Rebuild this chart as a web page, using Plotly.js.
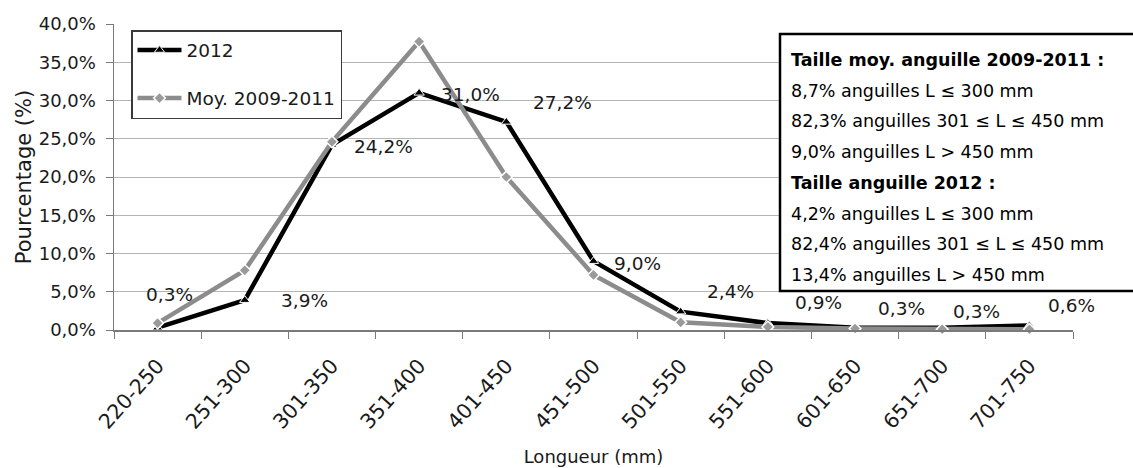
<!DOCTYPE html>
<html>
<head>
<meta charset="utf-8">
<script src="https://cdn.plot.ly/plotly-3.0.1.min.js"></script>
<style>
  html, body { margin: 0; padding: 0; background: #ffffff; }
  #chart { width: 1133px; height: 468px; }
</style>
</head>
<body>
<div id="chart"></div>
<script>
// ---- Data ----
const categories = ['220-250', '251-300', '301-350', '351-400', '401-450', '451-500',
                    '501-550', '551-600', '601-650', '651-700', '701-750'];
const series2012Name = '2012';
const series2012 = [0.3, 3.9, 24.2, 31.0, 27.2, 9.0, 2.4, 0.9, 0.3, 0.3, 0.6];
const seriesMoyName = 'Moy. 2009-2011';
const seriesMoy = [0.9, 7.8, 24.6, 37.7, 20.0, 7.2, 1.0, 0.4, 0.2, 0.1, 0.1];
const yTitle = 'Pourcentage (%)';
const xTitle = 'Longueur (mm)';
const infoLines = [
  'Taille moy. anguille 2009-2011 :',
  '8,7% anguilles L ≤ 300 mm',
  '82,3% anguilles 301 ≤ L ≤ 450 mm',
  '9,0% anguilles L > 450 mm',
  'Taille anguille 2012 :',
  '4,2% anguilles L ≤ 300 mm',
  '82,4% anguilles 301 ≤ L ≤ 450 mm',
  '13,4% anguilles L > 450 mm'
];
const infoBold = [true, false, false, false, true, false, false, false];

// ---- Style (pixel offsets of the 2012 value labels) ----
const labelDx = [12, 60, 52, 51, 56, 44, 50, 51, 46, 34, 42];
const labelDy = [33, 0, -2, -2, 19, -2, 20, 21, 19, 16, 20];

const FONT = 'DejaVu Sans, Arial, sans-serif';
const TXT = '#1a1a1a';

// plot geometry in pixels
const W = 1133, H = 468;
const L = 114, R = 1073, T = 24, B = 330;
const px2x = p => (p - L) / (R - L);
const px2y = p => (B - p) / (B - T);

const fmt = v => v.toFixed(1).replace('.', ',') + '%';

const traces = [
  {
    type: 'scatter', mode: 'lines+markers', name: series2012Name,
    x: categories, y: series2012,
    line: { color: '#000000', width: 4.5 },
    marker: { symbol: 'triangle-up', size: 9, color: '#000000', line: { color: '#ffffff', width: 1 } },
    legendgroup: 'a', cliponaxis: false
  },
  {
    type: 'scatter', mode: 'lines+markers', name: seriesMoyName,
    x: categories, y: seriesMoy,
    line: { color: '#8c8c8c', width: 4.5 },
    marker: { symbol: 'diamond', size: 9, color: '#9a9a9a', line: { color: '#ffffff', width: 1.5 } },
    legendgroup: 'b', cliponaxis: false
  }
];

const annotations = [];
categories.forEach((c, i) => {
  annotations.push({
    xref: 'x', yref: 'y', x: c, y: series2012[i],
    text: fmt(series2012[i]), showarrow: false,
    xanchor: 'center', yanchor: 'middle',
    xshift: labelDx[i], yshift: labelDy[i],
    font: { family: FONT, size: 18.5, color: TXT }
  });
});

const shapes = [{
  type: 'rect', xref: 'paper', yref: 'paper', layer: 'above',
  x0: px2x(780), x1: px2x(1145), y0: px2y(291), y1: px2y(34),
  line: { color: '#000000', width: 2.5 }, fillcolor: '#ffffff'
}];

const lineY0 = 60, lineStep = 30.7;
infoLines.forEach((t, i) => {
  annotations.push({
    xref: 'paper', yref: 'paper', x: px2x(789), y: px2y(lineY0 + i * lineStep),
    xanchor: 'left', yanchor: 'middle', showarrow: false,
    text: infoBold[i] ? '<b>' + t + '</b>' : t,
    font: { family: FONT, size: 17.5, color: '#000000' }
  });
});

const layout = {
  width: W, height: H,
  margin: { l: L, r: W - R, t: T, b: H - B, pad: 0 },
  paper_bgcolor: '#ffffff', plot_bgcolor: '#ffffff',
  separators: ', ',
  font: { family: FONT, size: 18, color: TXT },
  showlegend: true,
  legend: {
    x: px2x(131), y: px2y(30), xanchor: 'left', yanchor: 'top',
    bgcolor: '#ffffff', bordercolor: '#3a3a3a', borderwidth: 1.5,
    font: { family: FONT, size: 18.5, color: TXT },
    traceorder: 'grouped', tracegroupgap: 21,
    itemwidth: 44
  },
  xaxis: {
    type: 'category', range: [-0.5, 10.5],
    tickson: 'boundaries', ticks: 'outside', ticklen: 7, tickwidth: 1, tickcolor: '#7a7a7a',
    showline: true, linecolor: '#7a7a7a', linewidth: 1.5,
    showgrid: false, zeroline: false,
    tickangle: -48, tickfont: { family: FONT, size: 20.5, color: TXT },
    ticklabelstandoff: 14,
    title: { text: xTitle, font: { family: FONT, size: 18, color: TXT }, standoff: 17 },
    automargin: false
  },
  yaxis: {
    range: [0, 40], dtick: 5, tick0: 0,
    tickformat: '.1f', ticksuffix: '%',
    ticks: 'outside', ticklen: 7, tickwidth: 1, tickcolor: '#7a7a7a',
    showline: true, linecolor: '#7a7a7a', linewidth: 1.5,
    showgrid: true, gridcolor: '#b5b5b5', gridwidth: 1,
    zeroline: false,
    tickfont: { family: FONT, size: 18, color: TXT },
    ticklabelstandoff: 6,
    title: { text: yTitle, font: { family: FONT, size: 21, color: TXT }, standoff: 1 },
    automargin: false
  },
  shapes: shapes,
  annotations: annotations
};

Plotly.newPlot('chart', traces, layout, { displayModeBar: false, staticPlot: true });
</script>
</body>
</html>
